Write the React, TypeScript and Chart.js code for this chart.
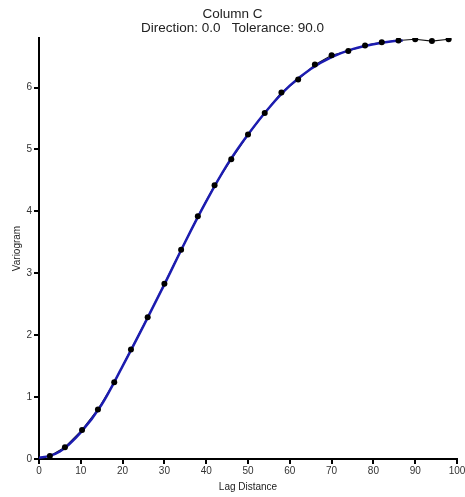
import React, { useEffect, useRef } from "react";
import { Chart, registerables } from "chart.js";

Chart.register(...registerables);

const lagDistances = [2.6, 6.2, 10.3, 14.1, 18.0, 22.0, 26.0, 30.0, 34.0, 38.0, 42.0, 46.0, 50.0, 54.0, 58.0, 62.0, 66.0, 70.0, 74.0, 78.0, 82.0, 86.0, 90.0, 94.0, 98.0];
const variogramValues = [0.05, 0.19, 0.47, 0.80, 1.24, 1.77, 2.29, 2.83, 3.38, 3.92, 4.42, 4.84, 5.24, 5.59, 5.92, 6.13, 6.37, 6.52, 6.59, 6.68, 6.73, 6.76, 6.78, 6.75, 6.78];

const modelLags = [0, 2.5, 5, 10, 15, 20, 25, 30, 35, 40, 45, 50, 55, 60, 65, 70, 75, 80, 85, 87];
const modelValues = [0.02, 0.05, 0.12, 0.43, 0.88, 1.5, 2.15, 2.82, 3.51, 4.16, 4.75, 5.24, 5.67, 6.03, 6.3, 6.49, 6.62, 6.7, 6.75, 6.76];

const xTicks = [0, 10, 20, 30, 40, 50, 60, 70, 80, 90, 100];
const yTicks = [0, 1, 2, 3, 4, 5, 6];

const titleText = "Column C";
const subtitleText = "Direction: 0.0   Tolerance: 90.0";
const xTitle = "Lag Distance";
const yTitle = "Variogram";

const FONT = "Arial, 'Liberation Sans', sans-serif";

export default function App() {
  const ref = useRef<HTMLCanvasElement | null>(null);
  useEffect(() => {
    if (!ref.current) return;
    const pts = lagDistances.map((x, i) => ({ x, y: variogramValues[i] }));
    const model = modelLags.map((x, i) => ({ x, y: modelValues[i] }));
    const chart = new Chart(ref.current, {
      type: "scatter",
      data: {
        datasets: [
          {
            data: pts,
            showLine: false,
            pointRadius: 3,
            pointBackgroundColor: "#000000",
            pointBorderColor: "#000000",
            pointBorderWidth: 0,
          },
          {
            data: model,
            showLine: true,
            borderColor: "#1c1cb0",
            borderWidth: 2.5,
            pointRadius: 0,
            cubicInterpolationMode: "monotone",
          },
          {
            data: pts,
            showLine: true,
            borderColor: "#111111",
            borderWidth: 1.2,
            pointRadius: 0,
          },
        ],
      },
      options: {
        animation: false,
        responsive: false,
        maintainAspectRatio: false,
        layout: { padding: { left: 0, right: 0, top: 0, bottom: 0 } },
        plugins: {
          legend: { display: false },
          tooltip: { enabled: false },
          title: {
            display: true,
            text: titleText,
            color: "#222222",
            font: { family: FONT, size: 13.5, weight: "normal", lineHeight: 1.0 },
            padding: { top: 7.5, bottom: 0 },
          },
          subtitle: {
            display: true,
            text: subtitleText,
            color: "#222222",
            font: { family: FONT, size: 13.5, weight: "normal", lineHeight: 1.0 },
            padding: { top: 0.5, bottom: 3 },
          },
        },
        scales: {
          x: {
            type: "linear",
            min: 0,
            max: 100,
            afterBuildTicks: (s: any) => {
              s.ticks = xTicks.map((v) => ({ value: v }));
            },
            afterFit: (s: any) => {
              s.height = 38;
              s.paddingRight = 8;
            },
            ticks: {
              color: "#333333",
              font: { family: FONT, size: 10 },
              padding: 1,
              maxRotation: 0,
              autoSkip: false,
            },
            grid: {
              drawOnChartArea: false,
              drawTicks: true,
              tickLength: 5,
              color: "#000000",
              lineWidth: 2,
            },
            border: { display: true, color: "#000000", width: 2 },
            title: {
              display: true,
              text: xTitle,
              color: "#222222",
              font: { family: FONT, size: 10 },
              padding: { top: 0, bottom: 4 },
            },
          },
          y: {
            type: "linear",
            min: 0,
            max: 6.8,
            afterBuildTicks: (s: any) => {
              s.ticks = yTicks.map((v) => ({ value: v }));
            },
            afterFit: (s: any) => {
              s.width = 39;
            },
            ticks: {
              color: "#333333",
              font: { family: FONT, size: 10 },
              padding: 2,
              autoSkip: false,
            },
            grid: {
              drawOnChartArea: false,
              drawTicks: true,
              tickLength: 5,
              color: "#000000",
              lineWidth: 2,
            },
            border: { display: true, color: "#000000", width: 2 },
            title: {
              display: true,
              text: yTitle,
              color: "#222222",
              font: { family: FONT, size: 10 },
              padding: { top: 11, bottom: 0 },
            },
          },
        },
      },
    });
    return () => chart.destroy();
  }, []);
  return (
    <div style={{ position: "absolute", left: 0, top: 0, width: 465, height: 497, background: "#fff" }}>
      <canvas ref={ref} width={465} height={497} style={{ width: 465, height: 497, display: "block" }} />
    </div>
  );
}
